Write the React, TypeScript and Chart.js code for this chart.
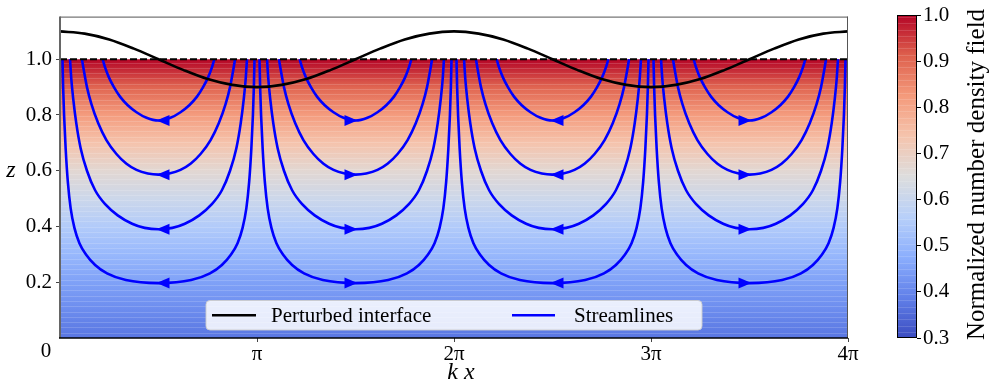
import React, { useEffect, useRef } from 'react';
import { Chart, registerables } from 'chart.js';
Chart.register(...registerables);

const PI = Math.PI;
const FONT = "'Liberation Serif', 'Times New Roman', serif";

// ---- axis ticks ----
const xTickValues = [PI, 2 * PI, 3 * PI, 4 * PI];
const xTickLabels = ['π', '2π', '3π', '4π'];
const yTickValues = [0.2, 0.4, 0.6, 0.8, 1.0];
const cbTickValues = [0.3, 0.4, 0.5, 0.6, 0.7, 0.8, 0.9, 1.0];

// ---- perturbed interface (kx in units of π, z) ----
const interfaceKxOverPi = [
  0, 0.125, 0.25, 0.375, 0.5, 0.625, 0.75, 0.875, 1, 1.125, 1.25, 1.375, 1.5, 1.625, 1.75, 1.875, 2,
  2.125, 2.25, 2.375, 2.5, 2.625, 2.75, 2.875, 3, 3.125, 3.25, 3.375, 3.5, 3.625, 3.75, 3.875, 4,
];
const interfaceZ = [
  1.1, 1.092, 1.071, 1.038, 1.0, 0.962, 0.929, 0.908, 0.9, 0.908, 0.929, 0.962, 1.0, 1.038, 1.071, 1.092, 1.1,
  1.092, 1.071, 1.038, 1.0, 0.962, 0.929, 0.908, 0.9, 0.908, 0.929, 0.962, 1.0, 1.038, 1.071, 1.092, 1.1,
];

// ---- density field (z, normalized density) ----
const densityZ = [0, 0.1, 0.2, 0.3, 0.4, 0.5, 0.6, 0.7, 0.8, 0.9, 1.0];
const densityValue = [0.37, 0.41, 0.45, 0.5, 0.55, 0.61, 0.67, 0.74, 0.82, 0.905, 1.0];

// ---- streamlines: left half of each loop in one cell (kx from cell edge, z) ----
const streamA_kx = [0.68, 0.72, 0.78, 0.86, 0.96, 1.08, 1.22, 1.38, PI / 2];
const streamA_z = [1.0, 0.97, 0.935, 0.9, 0.865, 0.835, 0.81, 0.79, 0.78];
const streamB_kx = [0.35, 0.38, 0.43, 0.5, 0.61, 0.74, 0.9, 1.06, 1.22, 1.4, PI / 2];
const streamB_z = [1.0, 0.96, 0.9, 0.84, 0.77, 0.71, 0.66, 0.625, 0.603, 0.59, 0.586];
const streamC_kx = [0.16, 0.18, 0.21, 0.26, 0.33, 0.43, 0.56, 0.72, 0.92, 1.15, 1.35, PI / 2];
const streamC_z = [1.0, 0.93, 0.86, 0.77, 0.68, 0.6, 0.53, 0.48, 0.44, 0.41, 0.395, 0.39];
const streamD_kx = [0.04, 0.05, 0.065, 0.09, 0.125, 0.17, 0.23, 0.31, 0.42, 0.56, 0.75, 1.05, PI / 2];
const streamD_z = [1.0, 0.9, 0.8, 0.68, 0.56, 0.465, 0.395, 0.34, 0.298, 0.262, 0.232, 0.208, 0.197];
const cellStartOverPi = [0, 1, 2, 3];
const cellArrowDir = [-1, 1, -1, 1];

// ---- coolwarm colormap ----
const cmapPos = [0, 0.125, 0.25, 0.375, 0.5, 0.625, 0.75, 0.875, 1];
const cmapRGB = [
  [59, 76, 192], [97, 128, 233], [139, 174, 253], [184, 208, 249], [221, 221, 221],
  [245, 196, 173], [244, 154, 123], [222, 96, 77], [180, 4, 38],
];
const CB_MIN = 0.3;
const CB_MAX = 1.0;

function coolwarm(t: number): string {
  const u = Math.max(0, Math.min(1, t));
  let i = 0;
  while (i < cmapPos.length - 2 && u > cmapPos[i + 1]) i++;
  const f = (u - cmapPos[i]) / (cmapPos[i + 1] - cmapPos[i]);
  const a = cmapRGB[i], b = cmapRGB[i + 1];
  const c = a.map((v, k) => Math.round(v + (b[k] - v) * f));
  return `rgb(${c[0]},${c[1]},${c[2]})`;
}

function buildLoop(kx: number[], z: number[], cell: number) {
  const x0 = cellStartOverPi[cell] * PI;
  const pts: { x: number; y: number }[] = [];
  for (let i = 0; i < kx.length; i++) pts.push({ x: x0 + kx[i], y: z[i] });
  for (let i = kx.length - 2; i >= 0; i--) pts.push({ x: x0 + PI - kx[i], y: z[i] });
  return pts;
}

const backgroundPlugin = {
  id: 'densityBackground',
  beforeDatasetsDraw(chart: any) {
    const { ctx, chartArea: a, scales } = chart;
    const y = scales.y;
    const yTop = y.getPixelForValue(1);
    const yBot = y.getPixelForValue(0);
    const g = ctx.createLinearGradient(0, yBot, 0, yTop);
    densityZ.forEach((z, i) => g.addColorStop(z, coolwarm((densityValue[i] - CB_MIN) / (CB_MAX - CB_MIN))));
    ctx.save();
    ctx.fillStyle = g;
    ctx.fillRect(a.left, yTop, a.right - a.left, yBot - yTop);
    ctx.fillStyle = 'rgba(255,255,255,0.16)';
    for (let k = 1; k < 53; k++) {
      const py = Math.round(y.getPixelForValue(k * 0.019));
      ctx.fillRect(a.left, py, a.right - a.left, 1);
    }
    ctx.restore();
  },
};

const overlayPlugin = {
  id: 'overlay',
  afterDatasetsDraw(chart: any) {
    const { ctx, chartArea: a, scales } = chart;
    const x = scales.x, y = scales.y;
    ctx.save();
    // arrows
    chart.data.datasets.forEach((ds: any) => {
      if (!ds.arrowDir) return;
      let m = ds.data[0];
      ds.data.forEach((p: any) => { if (p.y < m.y) m = p; });
      const cx = x.getPixelForValue(m.x) + ds.arrowDir * 2;
      const cy = y.getPixelForValue(m.y);
      const d = ds.arrowDir;
      ctx.fillStyle = '#0000ff';
      ctx.beginPath();
      ctx.moveTo(cx, cy);
      ctx.lineTo(cx - d * 13, cy - 5.5);
      ctx.lineTo(cx - d * 13, cy + 5.5);
      ctx.closePath();
      ctx.fill();
    });
    // spines
    ctx.lineWidth = 1;
    ctx.strokeStyle = '#555';
    ctx.beginPath();
    ctx.moveTo(a.left, a.top + 0.5); ctx.lineTo(a.right, a.top + 0.5);
    ctx.moveTo(a.right - 0.5, a.top); ctx.lineTo(a.right - 0.5, a.bottom);
    ctx.stroke();
    ctx.lineWidth = 2;
    ctx.strokeStyle = '#666';
    ctx.beginPath();
    ctx.moveTo(a.left, a.top); ctx.lineTo(a.left, a.bottom);
    ctx.stroke();
    ctx.strokeStyle = '#000';
    ctx.lineWidth = 1.6;
    ctx.beginPath();
    ctx.moveTo(a.left - 1, a.bottom); ctx.lineTo(a.right, a.bottom);
    ctx.stroke();

    // legend
    const lw = 496, lh = 29.5;
    const lx = (a.left + a.right) / 2 - lw / 2;
    const ly = a.bottom - 8 - lh;
    ctx.fillStyle = 'rgba(255,255,255,0.85)';
    ctx.strokeStyle = 'rgba(204,204,204,0.9)';
    ctx.lineWidth = 1;
    ctx.beginPath();
    ctx.roundRect(lx, ly, lw, lh, 4);
    ctx.fill();
    ctx.stroke();
    const my = ly + lh / 2;
    ctx.lineWidth = 2.6;
    ctx.strokeStyle = '#000';
    ctx.beginPath(); ctx.moveTo(lx + 6, my); ctx.lineTo(lx + 50, my); ctx.stroke();
    ctx.strokeStyle = '#0000ff';
    ctx.beginPath(); ctx.moveTo(lx + 306, my); ctx.lineTo(lx + 349, my); ctx.stroke();
    ctx.fillStyle = '#000';
    ctx.font = `21px ${FONT}`;
    ctx.textBaseline = 'middle';
    ctx.textAlign = 'left';
    ctx.fillText(chart.data.datasets[0].label, lx + 65, my + 1);
    ctx.fillText('Streamlines', lx + 368, my + 1);

    // origin label and axis titles
    ctx.textAlign = 'center';
    ctx.fillText('0', a.left - 14, a.bottom + 13);
    ctx.font = `italic 24px ${FONT}`;
    ctx.fillText('k x', 461, 373);
    ctx.fillText('z', 11, 171);
    ctx.restore();
  },
};

const colorbarPlugin = {
  id: 'colorbar',
  beforeDraw(chart: any) {
    const { ctx, chartArea: a } = chart;
    const g = ctx.createLinearGradient(0, a.bottom, 0, a.top);
    cmapPos.forEach((p) => g.addColorStop(p, coolwarm(p)));
    ctx.save();
    ctx.fillStyle = g;
    ctx.fillRect(a.left, a.top, a.right - a.left, a.bottom - a.top);
    ctx.fillStyle = 'rgba(255,255,255,0.14)';
    for (let py = a.bottom - 6; py > a.top; py -= 6.3) {
      ctx.fillRect(a.left, Math.round(py), a.right - a.left, 1);
    }
    ctx.strokeStyle = '#000';
    ctx.lineWidth = 1;
    ctx.strokeRect(a.left + 0.5, a.top + 0.5, a.right - a.left - 1, a.bottom - a.top - 1);
    ctx.restore();
  },
  afterDraw(chart: any) {
    const { ctx, chartArea: a } = chart;
    ctx.save();
    ctx.translate(977, (a.top + a.bottom) / 2 - 2);
    ctx.rotate(-PI / 2);
    ctx.fillStyle = '#000';
    ctx.font = `25px ${FONT}`;
    ctx.textAlign = 'center';
    ctx.textBaseline = 'middle';
    ctx.fillText('Normalized number density field', 0, 0);
    ctx.restore();
  },
};

export default function App() {
  const mainRef = useRef<HTMLCanvasElement>(null);
  const cbRef = useRef<HTMLCanvasElement>(null);

  useEffect(() => {
    const datasets: any[] = [];
    datasets.push({
      label: 'Perturbed interface',
      data: interfaceKxOverPi.map((k, i) => ({ x: k * PI, y: interfaceZ[i] })),
      borderColor: '#000',
      borderWidth: 2.6,
      pointRadius: 0,
      cubicInterpolationMode: 'monotone',
      fill: false,
    });
    datasets.push({
      label: 'z = 1',
      data: [{ x: 0, y: 1 }, { x: 4 * PI, y: 1 }],
      borderColor: '#000',
      borderWidth: 2,
      borderDash: [7, 3],
      pointRadius: 0,
      fill: false,
    });
    const loops: [number[], number[]][] = [
      [streamA_kx, streamA_z],
      [streamB_kx, streamB_z],
      [streamC_kx, streamC_z],
      [streamD_kx, streamD_z],
    ];
    cellStartOverPi.forEach((_, cell) => {
      loops.forEach(([kx, z]) => {
        datasets.push({
          label: 'Streamlines',
          data: buildLoop(kx, z, cell),
          borderColor: '#0000ff',
          borderWidth: 2.6,
          pointRadius: 0,
          cubicInterpolationMode: 'monotone',
          fill: false,
          arrowDir: cellArrowDir[cell],
        });
      });
    });

    const tickFont = { family: FONT, size: 21 };
    const main = new Chart(mainRef.current!, {
      type: 'line',
      data: { datasets },
      options: {
        responsive: false,
        animation: false,
        events: [],
        layout: { padding: { left: 0, right: 146, top: 15, bottom: 0 } },
        plugins: { legend: { display: false }, tooltip: { enabled: false } },
        scales: {
          x: {
            type: 'linear',
            min: 0,
            max: 4 * PI,
            afterFit: (s: any) => { s.height = 45; },
            afterBuildTicks: (s: any) => { s.ticks = xTickValues.map((v) => ({ value: v })); },
            ticks: {
              callback: (_v: any, i: number) => xTickLabels[i],
              font: tickFont,
              color: '#000',
              padding: 0,
              maxRotation: 0,
              autoSkip: false,
            },
            grid: { drawOnChartArea: false, drawTicks: true, tickLength: 4, color: '#444' },
            border: { display: false },
          },
          y: {
            type: 'linear',
            min: 0,
            max: 1.153,
            afterFit: (s: any) => { s.width = 60; },
            afterBuildTicks: (s: any) => { s.ticks = yTickValues.map((v) => ({ value: v })); },
            ticks: {
              callback: (v: any) => Number(v).toFixed(1),
              font: tickFont,
              color: '#000',
              padding: 4,
            },
            grid: { drawOnChartArea: false, drawTicks: true, tickLength: 4, color: '#444' },
            border: { display: false },
          },
        },
      } as any,
      plugins: [backgroundPlugin, overlayPlugin],
    });

    const cb = new Chart(cbRef.current!, {
      type: 'scatter',
      data: { datasets: [{ data: [] }] },
      options: {
        responsive: false,
        animation: false,
        events: [],
        layout: { padding: { left: 897, right: 0, top: 15, bottom: 45 } },
        plugins: { legend: { display: false }, tooltip: { enabled: false } },
        scales: {
          x: { display: false, min: 0, max: 1 },
          y: {
            position: 'right',
            min: CB_MIN,
            max: CB_MAX,
            afterFit: (s: any) => { s.width = 77; },
            afterBuildTicks: (s: any) => { s.ticks = cbTickValues.map((v) => ({ value: v })); },
            ticks: {
              callback: (v: any) => Number(v).toFixed(1),
              font: tickFont,
              color: '#000',
              padding: 2,
            },
            grid: { drawOnChartArea: false, drawTicks: true, tickLength: 4, color: '#000' },
            border: { display: false },
          },
        },
      } as any,
      plugins: [colorbarPlugin],
    });

    return () => {
      main.destroy();
      cb.destroy();
    };
  }, []);

  return (
    <div style={{ position: 'fixed', left: 0, top: 0, width: 994, height: 383, background: '#fff' }}>
      <canvas ref={mainRef} width={994} height={383} style={{ position: 'absolute', left: 0, top: 0 }} />
      <canvas ref={cbRef} width={994} height={383} style={{ position: 'absolute', left: 0, top: 0, pointerEvents: 'none' }} />
    </div>
  );
}
